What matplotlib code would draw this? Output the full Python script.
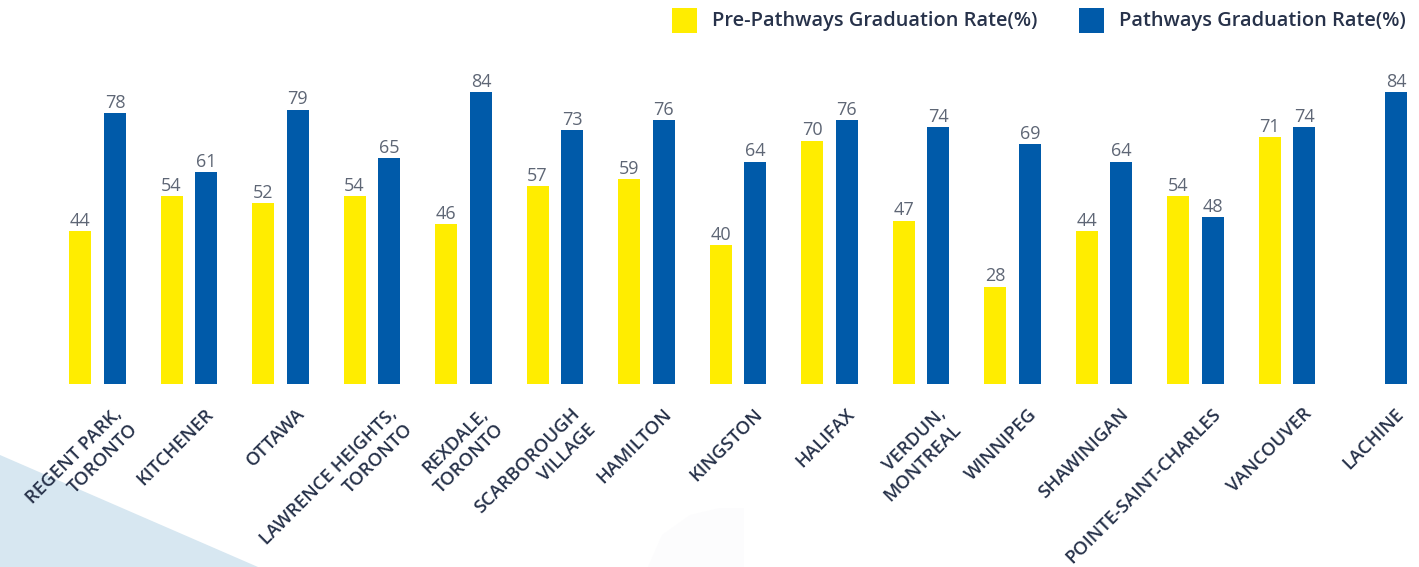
import numpy as np
import matplotlib
matplotlib.use("Agg")
import matplotlib.pyplot as plt
from matplotlib.patches import Rectangle, Polygon

# ---------------- data ----------------
categories = ["REGENT PARK,\nTORONTO", "KITCHENER", "OTTAWA", "LAWRENCE HEIGHTS,\nTORONTO",
              "REXDALE,\nTORONTO", "SCARBOROUGH\nVILLAGE", "HAMILTON", "KINGSTON", "HALIFAX",
              "VERDUN,\nMONTREAL", "WINNIPEG", "SHAWINIGAN", "POINTE-SAINT-CHARLES",
              "VANCOUVER", "LACHINE"]
pre_pathways = [44, 54, 52, 54, 46, 57, 59, 40, 70, 47, 28, 44, 54, 71, np.nan]
pathways = [78, 61, 79, 65, 84, 73, 76, 64, 76, 74, 69, 64, 48, 74, 84]
series_names = ["Pre-Pathways Graduation Rate(%)", "Pathways Graduation Rate(%)"]

# ---------------- style ----------------
YELLOW = "#FFED00"
BLUE = "#005AA9"
VAL_COL = "#5E6675"
LBL_COL = "#27324A"
FONT = "Open Sans"

W, H = 1419, 567
fig = plt.figure(figsize=(W / 100, H / 100), dpi=100)
fig.patch.set_facecolor("white")


def fx(px):
    return px / W


def fy(py):
    return 1 - py / H


# decorative background shapes
tri = Polygon([(fx(0), fy(455)), (fx(258), fy(567)), (fx(0), fy(567))],
              closed=True, transform=fig.transFigure, facecolor="#D7E7F1",
              edgecolor="none", zorder=-5)
fig.patches.append(tri)
blob = Polygon([(fx(648), fy(567)), (fx(662), fy(535)), (fx(690), fy(515)),
                (fx(720), fy(508)), (fx(744), fy(508)), (fx(744), fy(567))],
               closed=True, transform=fig.transFigure, facecolor="#FCFCFD",
               edgecolor="none", zorder=-5)
fig.patches.append(blob)

# axes placement: group spacing 91.5 px, baseline at y=384 px, 3.474 px / unit
left_px = 51.75
base_px = 384
ppu = 3.474
ymax = 96
ax = fig.add_axes([left_px / W, (H - base_px) / H, (W - left_px) / W, ymax * ppu / H])
ax.set_zorder(1)
ax.patch.set_visible(False)
n = len(categories)
x = np.arange(n)
ax.set_xlim(-0.5, -0.5 + (W - left_px) / 91.5)
ax.set_ylim(0, ymax)
for s in ax.spines.values():
    s.set_visible(False)
ax.set_xticks([])
ax.set_yticks([])

bw = 0.24
off = 0.19
b1 = ax.bar(x - off, pre_pathways, width=bw, color=YELLOW, zorder=2)
b2 = ax.bar(x + off, pathways, width=bw, color=BLUE, zorder=2)

lab1 = ["" if np.isnan(v) else f"{v:.0f}" for v in pre_pathways]
lab2 = [f"{v:.0f}" for v in pathways]
ax.bar_label(b1, labels=lab1, padding=1, color=VAL_COL, fontsize=13, family=FONT)
ax.bar_label(b2, labels=lab2, padding=1, color=VAL_COL, fontsize=13, family=FONT)

# rotated category labels
for i, c in enumerate(categories):
    ax.text(i + 0.17, -6.0, c, rotation=45, rotation_mode="anchor", ha="right", va="top",
            multialignment="right", fontsize=13.3, fontweight="semibold", family=FONT,
            color=LBL_COL, linespacing=1.3, clip_on=False)

# legend
for (sx, tx), name, col in zip([(672, 712), (1079, 1119)], series_names, [YELLOW, BLUE]):
    fig.patches.append(Rectangle((fx(sx), fy(33)), 25 / W, 25 / H, transform=fig.transFigure,
                                 facecolor=col, edgecolor="none"))
    fig.text(fx(tx), fy(21), name, ha="left", va="center", fontsize=14.4,
             fontweight="semibold", family=FONT, color=LBL_COL)

fig.savefig("out.png", dpi=100, facecolor="white")
